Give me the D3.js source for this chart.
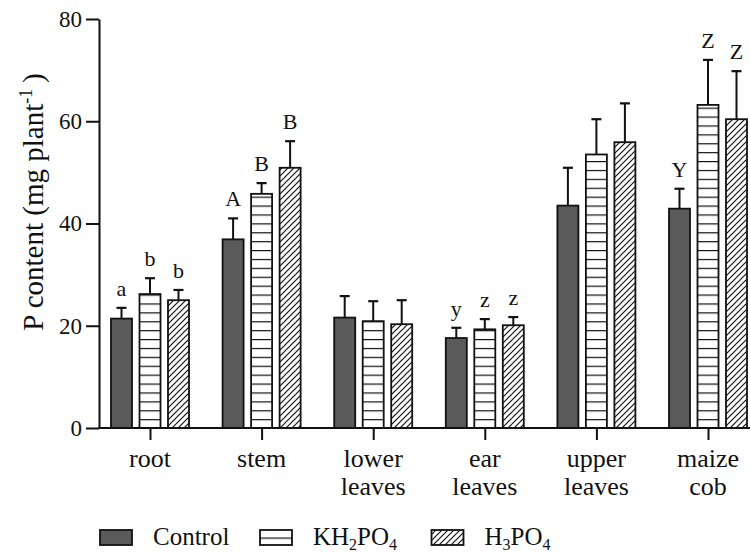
<!DOCTYPE html>
<html>
<head>
<meta charset="utf-8">
<script src="https://cdn.jsdelivr.net/npm/d3@7"></script>
<style>
  body { margin: 0; background: #fff; }
  svg { display: block; }
  text { font-family: "Liberation Serif", "DejaVu Serif", serif; fill: #111; }
</style>
</head>
<body>
<svg id="chart" width="750" height="552"></svg>
<script>
// ---- data ----
const categories = ["root", "stem", "lower leaves", "ear leaves", "upper leaves", "maize cob"];
const series = ["Control", "KH2PO4", "H3PO4"];
const controlMean = [21.4, 36.9, 21.6, 17.6, 43.5, 42.9];
const controlSD   = [2.1, 4.1, 4.2, 2.0, 7.4, 3.9];
const khMean      = [26.2, 45.8, 20.9, 19.3, 53.5, 63.2];
const khSD        = [3.1, 2.1, 3.9, 2.0, 6.9, 8.8];
const hMean       = [25.0, 50.9, 20.3, 20.1, 55.9, 60.4];
const hSD         = [2.0, 5.2, 4.7, 1.6, 7.6, 9.4];
const controlLetters = ["a", "A", "", "y", "", "Y"];
const khLetters      = ["b", "B", "", "z", "", "Z"];
const hLetters       = ["b", "B", "", "z", "", "Z"];
const yTicks = [0, 20, 40, 60, 80];

const means = [controlMean, khMean, hMean];
const sds = [controlSD, khSD, hSD];
const letters = [controlLetters, khLetters, hLetters];

const svg = d3.select("#chart");
const y = d3.scaleLinear().domain([0, 80]).range([428, 19]);
const x = d3.scalePoint().domain(categories).range([150, 708]);
const xs = d3.scaleBand().domain(series).range([-46.5, 46.5]).padding(0.263);
const axisX = 99;

// patterns
const defs = svg.append("defs");
const stripeH = 8.9;
const ps = defs.append("pattern").attr("id", "stripes").attr("patternUnits", "userSpaceOnUse")
  .attr("x", 0).attr("y", y(0)).attr("width", 20).attr("height", stripeH);
ps.append("rect").attr("width", 20).attr("height", stripeH).attr("fill", "#fff");
ps.append("line").attr("x1", 0).attr("x2", 20).attr("y1", 0).attr("y2", 0)
  .attr("stroke", "#111").attr("stroke-width", 2.4);

const hatchS = 6;
const ph = defs.append("pattern").attr("id", "hatch").attr("patternUnits", "userSpaceOnUse")
  .attr("width", hatchS).attr("height", hatchS);
ph.append("rect").attr("width", hatchS).attr("height", hatchS).attr("fill", "#fff");
ph.append("path").attr("d", `M0,${hatchS} L${hatchS},0 M${-hatchS/2},${hatchS/2} L${hatchS/2},${-hatchS/2} M${hatchS/2},${hatchS*1.5} L${hatchS*1.5},${hatchS/2}`)
  .attr("stroke", "#111").attr("stroke-width", 1.2);

const pl = defs.append("pattern").attr("id", "stripesLeg").attr("patternUnits", "userSpaceOnUse")
  .attr("x", 0).attr("y", 537.5).attr("width", 20).attr("height", 20);
pl.append("rect").attr("width", 20).attr("height", 20).attr("fill", "#fff");
pl.append("line").attr("x1", 0).attr("x2", 20).attr("y1", 0).attr("y2", 0)
  .attr("stroke", "#111").attr("stroke-width", 2.4);

const fills = ["#5a5a5a", "url(#stripes)", "url(#hatch)"];
const legendFills = ["#5a5a5a", "url(#stripesLeg)", "url(#hatch)"];

// bars
series.forEach((s, si) => {
  const g = svg.append("g");
  categories.forEach((c, ci) => {
    const bx = x(c) + xs(s);
    const bw = xs.bandwidth();
    const v = means[si][ci];
    const top = v + sds[si][ci];
    const cx = bx + bw / 2;
    g.append("line").attr("x1", cx).attr("x2", cx).attr("y1", y(v)).attr("y2", y(top))
      .attr("stroke", "#111").attr("stroke-width", 2);
    g.append("line").attr("x1", cx - 5).attr("x2", cx + 5).attr("y1", y(top)).attr("y2", y(top))
      .attr("stroke", "#111").attr("stroke-width", 2.2);
    g.append("rect").attr("x", bx).attr("y", y(v)).attr("width", bw).attr("height", y(0) - y(v))
      .attr("fill", fills[si]).attr("stroke", "#111").attr("stroke-width", 1.8);
    const L = letters[si][ci];
    if (L) {
      g.append("text").attr("x", cx).attr("y", y(top) - 12).attr("text-anchor", "middle")
        .attr("font-size", 22).text(L);
    }
  });
});

// y axis
const gy = svg.append("g").attr("transform", `translate(${axisX},0)`)
  .call(d3.axisLeft(y).tickValues(yTicks).tickSize(13).tickPadding(4).tickSizeOuter(0));
gy.select(".domain").attr("stroke", "#111").attr("stroke-width", 2);
gy.selectAll(".tick line").attr("stroke", "#111").attr("stroke-width", 2);
gy.selectAll(".tick text").attr("font-size", 23).attr("font-family", "Liberation Serif, DejaVu Serif, serif").attr("fill", "#111");

// x axis
svg.append("line").attr("x1", axisX - 1).attr("x2", 750).attr("y1", y(0)).attr("y2", y(0))
  .attr("stroke", "#111").attr("stroke-width", 2);
const gx = svg.append("g").attr("transform", `translate(0,${y(0)})`)
  .call(d3.axisBottom(x).tickSize(12).tickSizeOuter(0).tickFormat(""));
gx.select(".domain").remove();
gx.selectAll(".tick line").attr("stroke", "#111").attr("stroke-width", 2);
categories.forEach(c => {
  const parts = c.split(" ");
  const t = svg.append("text").attr("x", x(c)).attr("y", 467).attr("text-anchor", "middle")
    .attr("font-size", 26);
  parts.forEach((p, i) => {
    t.append("tspan").attr("x", x(c)).attr("dy", i === 0 ? 0 : 28).text(p);
  });
});

// y title
const yt = svg.append("text").attr("transform", "translate(43,202) rotate(-90)")
  .attr("text-anchor", "middle").attr("font-size", 29);
yt.append("tspan").text("P content (mg plant");
yt.append("tspan").attr("dy", -11).attr("font-size", 18).text("-1");
yt.append("tspan").attr("dy", 11).text("\u2009)");

// legend
const legendX = [100, 260, 431.5];
const legendLabels = [["Control"], ["KH", "2", "PO", "4"], ["H", "3", "PO", "4"]];
series.forEach((s, i) => {
  svg.append("rect").attr("x", legendX[i]).attr("y", 530).attr("width", 32).attr("height", 15)
    .attr("fill", legendFills[i]).attr("stroke", "#111").attr("stroke-width", 1.8);
  const t = svg.append("text").attr("x", legendX[i] + 53).attr("y", 545).attr("font-size", 25);
  legendLabels[i].forEach((p, j) => {
    const sub = j % 2 === 1;
    t.append("tspan").attr("dy", j === 0 ? 0 : (sub ? 5 : -5)).attr("font-size", sub ? 16 : 25).text(p);
  });
});
</script>
</body>
</html>
